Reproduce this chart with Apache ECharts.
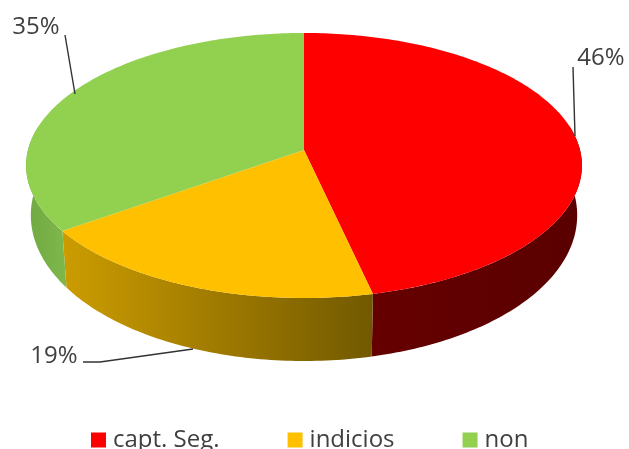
<!DOCTYPE html>
<html>
<head>
<meta charset="utf-8">
<style>
  html, body { margin: 0; padding: 0; background: #fff; overflow: hidden; }
  #chart { width: 629px; height: 449px; }
</style>
<script src="https://cdn.jsdelivr.net/npm/echarts@6/dist/echarts.min.js"></script>
</head>
<body>
<div id="chart"></div>
<script>
  const categorias = ['capt. Seg.', 'indicios', 'non'];
  const valores = [46.45, 18.75, 34.8];
  const coresTopo = ['#ff0000', '#ffc000', '#92d050'];
  // [direita, esquerda]
  const coresLado = [
    ['#5a0000', '#660000'],
    ['#725900', '#cc9c00'],
    ['#7fb84a', '#70a843']
  ];

  // Perspectiva do disco: centro aparente, raio e achatamento
  const cx = 304, cy = 150, raio = 276, alturaY = 130.7, k = 0.117;

  function projetar(theta) {
    const u = Math.sin(theta), v = -Math.cos(theta), d = 1 - k * v;
    return [cx + raio * u / d, cy + alturaY * v / d];
  }

  function projetarBase(theta) {
    const p = projetar(theta), v = -Math.cos(theta);
    return [cx + (p[0] - cx) * 0.983, p[1] + 48 + 15 * v];
  }

  function arco(fn, ini, fim) {
    const pontos = [];
    const passos = Math.max(2, Math.ceil(Math.abs(fim - ini) * 60));
    for (let i = 0; i <= passos; i++) {
      pontos.push(fn(ini + (fim - ini) * i / passos));
    }
    return pontos;
  }

  const total = valores.reduce((a, b) => a + b, 0);
  const rotulos = [
    { x: 601, y: 58, linha: [[573, 67], [575, 136]] },
    { x: 54, y: 356, linha: [[83, 362], [100, 362], [193, 349]] },
    { x: 36, y: 27, linha: [[65, 35], [75, 94]] }
  ];

  function criarSerie(nome, i) {
    const antes = valores.slice(0, i).reduce((a, b) => a + b, 0);
    return {
      type: 'custom',
      name: nome,
      coordinateSystem: 'none',
      itemStyle: { color: coresTopo[i] },
      silent: true,
      data: [[valores[i]]],
      renderItem: (params, api) => {
        const ini = antes / total * Math.PI * 2;
        const fim = (antes + api.value(0)) / total * Math.PI * 2;
        const filhos = [];

        // Lateral: so a parte virada para a frente
        const latIni = Math.max(ini, Math.PI * 0.44);
        const latFim = Math.min(fim, Math.PI * 1.56);
        if (latFim > latIni) {
          const lado = arco(projetar, latIni, latFim)
            .concat(arco(projetarBase, latFim, latIni));
          filhos.push({
            type: 'polygon',
            z2: 1,
            shape: { points: lado },
            style: {
              fill: new echarts.graphic.LinearGradient(1, 0, 0, 0, [
                { offset: 0, color: coresLado[i][0] },
                { offset: 1, color: coresLado[i][1] }
              ])
            }
          });
        }

        filhos.push({
          type: 'polygon',
          z2: 2,
          shape: { points: [[cx, cy]].concat(arco(projetar, ini, fim)) },
          style: { fill: coresTopo[i] }
        });

        filhos.push({
          type: 'polyline',
          z2: 3,
          shape: { points: rotulos[i].linha },
          style: { fill: 'none', stroke: '#333', lineWidth: 1.4 }
        });
        filhos.push({
          type: 'text',
          z2: 3,
          style: {
            x: rotulos[i].x,
            y: rotulos[i].y,
            text: Math.round(api.value(0)) + '%',
            fill: '#404040',
            font: '24px "Open Sans"',
            align: 'center',
            verticalAlign: 'middle'
          }
        });
        return { type: 'group', children: filhos };
      }
    };
  }

  const chart = echarts.init(document.getElementById('chart'));
  chart.setOption({
    animation: false,
    legend: {
      data: categorias,
      left: 91,
      top: 428,
      itemWidth: 15,
      itemHeight: 15,
      itemGap: 68,
      padding: 0,
      icon: 'rect',
      textStyle: { fontFamily: 'Open Sans', fontSize: 24, color: '#404040', padding: [0, 0, 0, 2] }
    },
    series: categorias.map(criarSerie)
  });
</script>
</body>
</html>
